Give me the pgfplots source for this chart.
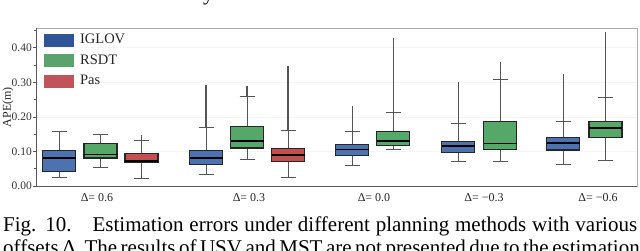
\documentclass[border=0pt]{standalone}
\usepackage{pgfplots}
\pgfplotsset{compat=1.18}
\usepgfplotslibrary{statistics}
\usepackage{fontspec}
\setmainfont{Liberation Serif}
\definecolor{iglov}{HTML}{4C72B0}
\definecolor{rsdt}{HTML}{55A868}
\definecolor{pas}{HTML}{C44E52}
\definecolor{iglovleg}{HTML}{2F5596}
\definecolor{rsdtleg}{HTML}{5AA36C}
\definecolor{pasleg}{HTML}{C0545A}
\definecolor{whisk}{HTML}{555555}
\begin{document}
\begin{tikzpicture}
\useasboundingbox (0pt,0pt) rectangle (640pt,-250pt);
\clip (0pt,0pt) rectangle (640pt,-250pt);
\begin{axis}[
  at={(36pt,-186pt)}, anchor=south west,
  width=601pt, height=158pt, scale only axis,
  xmin=36, xmax=637, ymin=0, ymax=0.457,
  ytick={0,0.1,0.2,0.3,0.4},
  yticklabels={0.00,0.10,0.20,0.30,0.40},
  minor ytick={0.05,0.15,0.25,0.35,0.45},
  ytick pos=left, tick align=outside,
  major tick length=3pt, minor tick length=2pt,
  y tick style={draw=whisk, line width=0.6pt},
  xtick={97,249,374,484,598},
  xticklabels={Δ= 0.6, Δ= 0.3, Δ= 0.0, Δ= −0.3, Δ= −0.6},
  x tick style={draw=none},
  xtick pos=bottom,
  yticklabel style={font=\fontsize{11.5}{11.5}\selectfont, text=black!80, inner sep=1pt},
  xticklabel style={font=\fontsize{12}{12}\selectfont, text=black!85, yshift=-1pt},
  ylabel={APE(m)},
  every axis y label/.style={at={(axis description cs:-0.0466,0.5)}, rotate=90, anchor=center, font=\fontsize{12}{12}\selectfont, text=black!85},
  ymajorgrids, grid style={draw=gray!8, line width=0.5pt},
  axis line style={draw=gray!65, line width=0.9pt},
  legend style={draw=none, fill=none, at={(axis description cs:0.0133,0.975)}, anchor=north west, inner sep=0pt, row sep=5.5pt, font=\fontsize{14.5}{14.5}\selectfont, text=black!85, /tikz/every odd column/.append style={column sep=4.5pt}},
  legend cell align=left,
  boxplot/draw direction=y,
  boxplot/every box/.style={draw=black!85, line width=1.1pt},
  boxplot/every median/.style={draw=black, line width=1.6pt},
  boxplot/every whisker/.style={draw=whisk, line width=0.9pt},
  boxplot/box extend=33,
  boxplot/whisker extend=15,
]
\addlegendimage{legend image code/.code={\fill[iglovleg] (0pt,-6pt) rectangle (29pt,6pt);}}
\addlegendentry{IGLOV}
\addlegendimage{legend image code/.code={\fill[rsdtleg] (0pt,-6pt) rectangle (29pt,6pt);}}
\addlegendentry{RSDT}
\addlegendimage{legend image code/.code={\fill[pasleg] (0pt,-6pt) rectangle (29pt,6pt);}}
\addlegendentry{Pas}

% outlier runs (drawn first, beneath boxes)
\addplot[draw=whisk, line width=1.1pt] coordinates {(141.5,0.132) (141.5,0.148)};
\addplot[draw=whisk, line width=1.1pt] coordinates {(206,0.168) (206,0.292)};
\addplot[draw=whisk, line width=1.1pt] coordinates {(247,0.260) (247,0.289)};
\addplot[draw=whisk, line width=1.1pt] coordinates {(288,0.161) (288,0.348)};
\addplot[draw=whisk, line width=1.1pt] coordinates {(352.3,0.159) (352.3,0.231)};
\addplot[draw=whisk, line width=1.1pt] coordinates {(393.3,0.213) (393.3,0.428)};
\addplot[draw=whisk, line width=1.1pt] coordinates {(458.3,0.181) (458.3,0.300)};
\addplot[draw=whisk, line width=1.1pt] coordinates {(500.3,0.307) (500.3,0.360)};
\addplot[draw=whisk, line width=1.1pt] coordinates {(563.3,0.188) (563.3,0.324)};
\addplot[draw=whisk, line width=1.1pt] coordinates {(605.5,0.256) (605.5,0.444)};

% Delta = 0.6
\addplot[fill=iglov, boxplot prepared={draw position=59.3, lower whisker=0.026, lower quartile=0.042, median=0.081, upper quartile=0.103, upper whisker=0.157}] coordinates {};
\addplot[fill=rsdt, boxplot prepared={draw position=100.5, lower whisker=0.053, lower quartile=0.081, median=0.091, upper quartile=0.123, upper whisker=0.150}] coordinates {};
\addplot[fill=pas, boxplot prepared={draw position=141.5, lower whisker=0.023, lower quartile=0.067, median=0.073, upper quartile=0.094, upper whisker=0.132}] coordinates {};
% Delta = 0.3
\addplot[fill=iglov, boxplot prepared={draw position=206, lower whisker=0.034, lower quartile=0.062, median=0.081, upper quartile=0.103, upper whisker=0.168}] coordinates {};
\addplot[fill=rsdt, boxplot prepared={draw position=247, lower whisker=0.078, lower quartile=0.110, median=0.130, upper quartile=0.171, upper whisker=0.260}] coordinates {};
\addplot[fill=pas, boxplot prepared={draw position=288, lower whisker=0.026, lower quartile=0.070, median=0.089, upper quartile=0.108, upper whisker=0.161}] coordinates {};
% Delta = 0.0
\addplot[fill=iglov, boxplot prepared={draw position=352.3, lower whisker=0.060, lower quartile=0.087, median=0.106, upper quartile=0.120, upper whisker=0.159}] coordinates {};
\addplot[fill=rsdt, boxplot prepared={draw position=393.3, lower whisker=0.106, lower quartile=0.118, median=0.130, upper quartile=0.157, upper whisker=0.213}] coordinates {};
% Delta = -0.3
\addplot[fill=iglov, boxplot prepared={draw position=458.3, lower whisker=0.071, lower quartile=0.098, median=0.115, upper quartile=0.130, upper whisker=0.181}] coordinates {};
\addplot[fill=rsdt, boxplot prepared={draw position=500.3, lower whisker=0.071, lower quartile=0.106, median=0.123, upper quartile=0.186, upper whisker=0.307}] coordinates {};
% Delta = -0.6
\addplot[fill=iglov, boxplot prepared={draw position=563.3, lower whisker=0.062, lower quartile=0.104, median=0.124, upper quartile=0.139, upper whisker=0.188}] coordinates {};
\addplot[fill=rsdt, boxplot prepared={draw position=605.5, lower whisker=0.074, lower quartile=0.139, median=0.168, upper quartile=0.187, upper whisker=0.256}] coordinates {};

\draw[draw=black!65, line width=0.9pt] (rel axis cs:0,1) -- (rel axis cs:0,0) -- (rel axis cs:1,0);
\end{axis}
\node[anchor=base west, inner sep=0pt, font=\fontsize{21}{21}\selectfont] at (203pt,0pt) {y};
\node[anchor=base west, inner sep=0pt, font=\fontsize{21}{21}\selectfont] at (3pt,-231.7pt) {\makebox[634pt][s]{Fig. 10.\quad Estimation errors under different planning methods with various}};
\node[anchor=base west, inner sep=0pt, font=\fontsize{21}{21}\selectfont] at (3pt,-254.5pt) {\makebox[634pt][s]{offsets Δ. The results of USV and MST are not presented due to the estimation}};
\end{tikzpicture}
\end{document}
